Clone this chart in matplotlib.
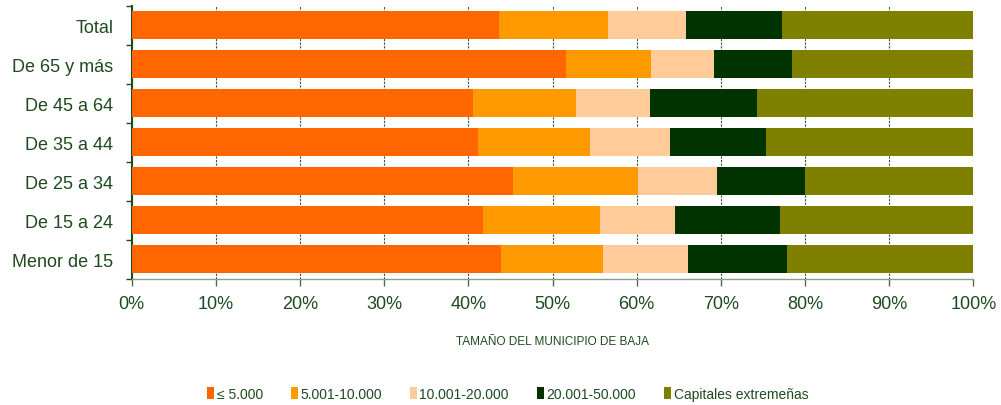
import numpy as np
import matplotlib
matplotlib.use("Agg")
import matplotlib.pyplot as plt

plt.rcParams['font.family'] = ['Liberation Sans', 'DejaVu Sans']

# age groups, top to bottom
groups = ['Total', 'De 65 y más', 'De 45 a 64', 'De 35 a 44',
          'De 25 a 34', 'De 15 a 24', 'Menor de 15']

# cumulative boundaries (%)
series_names = ['≤ 5.000', '5.001-10.000', '10.001-20.000',
                '20.001-50.000', 'Capitales extremeñas']
hasta_5000 = [43.6, 51.6, 40.6, 41.2, 45.3, 41.7, 43.9]
hasta_10000 = [56.6, 61.7, 52.8, 54.4, 60.1, 55.7, 56.0]
hasta_20000 = [65.8, 69.2, 61.6, 63.9, 69.5, 64.5, 66.1]
hasta_50000 = [77.2, 78.4, 74.3, 75.4, 80.0, 77.0, 77.8]
total = [100, 100, 100, 100, 100, 100, 100]

colors = ['#FF6600', '#FF9900', '#FFCC99', '#003300', '#808000']
text_color = '#1f4a1f'

cum = np.array([hasta_5000, hasta_10000, hasta_20000, hasta_50000, total])
starts = np.vstack([np.zeros(len(groups)), cum[:-1]])
widths = cum - starts

fig = plt.figure(figsize=(10.01, 4.06), dpi=100)
ax = fig.add_axes([0.1314, 0.311, 0.8411, 0.6725])

y = np.arange(len(groups))
for i in range(len(series_names)):
    ax.barh(y, widths[i], left=starts[i], height=0.71,
            color=colors[i], label=series_names[i], zorder=3)

ax.set_xlim(0, 100)
ax.set_ylim(len(groups) - 0.5, -0.5)

ax.set_xticks(np.arange(0, 101, 10))
ax.set_xticklabels([f'{v}%' for v in range(0, 101, 10)])
ax.set_yticks(y)
ax.set_yticklabels(groups)
ax.set_yticks(np.arange(-0.5, len(groups), 1), minor=True)

ax.tick_params(axis='y', which='major', length=0, pad=13,
               labelsize=13, labelcolor=text_color)
ax.tick_params(axis='y', which='minor', length=4, width=1.0,
               color=text_color)
ax.tick_params(axis='x', length=5, width=1, color='#4d6b4d',
               labelsize=13, labelcolor=text_color, pad=7)

ax.grid(axis='x', color='#2d5a2d', linestyle=(0, (2, 1.2)),
        linewidth=0.8, zorder=0)
ax.set_axisbelow(True)

for s in ['top', 'right']:
    ax.spines[s].set_visible(False)
ax.spines['left'].set_color(text_color)
ax.spines['left'].set_linewidth(1.5)
ax.spines['bottom'].set_color('#8aa08a')
ax.spines['bottom'].set_linewidth(1.0)

ax.set_xlabel('TAMAÑO DEL MUNICIPIO DE BAJA', fontsize=8.5,
              color=text_color, labelpad=16)

fig.legend(loc='center', bbox_to_anchor=(0.507, 0.027), ncol=5,
           frameon=False, fontsize=10, handlelength=0.55,
           handleheight=1.0, handletextpad=0.15, columnspacing=2.0,
           labelcolor=text_color)

fig.savefig('out.png', dpi=100)
